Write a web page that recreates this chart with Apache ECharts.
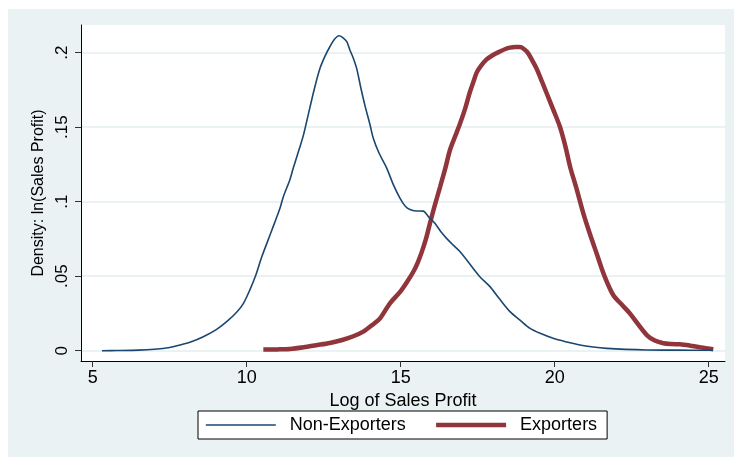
<!DOCTYPE html>
<html>
<head>
<meta charset="utf-8">
<script src="https://cdn.jsdelivr.net/npm/echarts@6/dist/echarts.min.js"></script>
<style>
  html, body { margin: 0; padding: 0; background: #ffffff; }
  #chart { position: absolute; left: 8px; top: 9px; width: 726px; height: 448px; }
</style>
</head>
<body>
<div id="chart"></div>
<script>
// Kernel density estimates of log sales profit
const nonExpX = [5.30, 5.8, 6.5, 7.0, 7.5, 7.84, 8.2, 8.59, 9.0, 9.35, 9.68, 9.9, 10.1, 10.3, 10.49, 10.8, 11.08, 11.19, 11.4, 11.51, 11.7, 11.84, 12.05, 12.2, 12.38, 12.55, 12.7, 12.85, 13.0, 13.1, 13.25, 13.35, 13.45, 13.57, 13.7, 13.84, 14.0, 14.11, 14.3, 14.55, 14.75, 14.98, 15.15, 15.3, 15.5, 15.73, 15.9, 16.11, 16.3, 16.49, 16.7, 16.93, 17.25, 17.57, 17.9, 18.2, 18.55, 18.9, 19.2, 19.55, 19.95, 20.4, 20.82, 21.25, 21.69, 22.3, 22.99, 24.0, 25.14];
const nonExpY = [0.0000, 0.0001, 0.0004, 0.0010, 0.0022, 0.0038, 0.0060, 0.0094, 0.0140, 0.0195, 0.0260, 0.0320, 0.0407, 0.0510, 0.0630, 0.0800, 0.0956, 0.1034, 0.1146, 0.1224, 0.1350, 0.1445, 0.1630, 0.1760, 0.1895, 0.1980, 0.2040, 0.2090, 0.2114, 0.2105, 0.2074, 0.2018, 0.1970, 0.1895, 0.1770, 0.1645, 0.1520, 0.1426, 0.1325, 0.1224, 0.1120, 0.1023, 0.0970, 0.0948, 0.0938, 0.0937, 0.0900, 0.0855, 0.0800, 0.0754, 0.0710, 0.0664, 0.0580, 0.0497, 0.0430, 0.0350, 0.0262, 0.0200, 0.0150, 0.0115, 0.0083, 0.0058, 0.0038, 0.0025, 0.0016, 0.0009, 0.0005, 0.0004, 0.0003];

const expX = [10.54, 11.0, 11.4, 11.9, 12.3, 12.7, 13.1, 13.46, 13.8, 14.11, 14.33, 14.65, 14.98, 15.2, 15.41, 15.55, 15.68, 15.82, 15.95, 16.1, 16.28, 16.45, 16.6, 16.78, 16.93, 17.1, 17.25, 17.37, 17.47, 17.6, 17.79, 18.0, 18.22, 18.4, 18.55, 18.72, 18.87, 19.0, 19.14, 19.28, 19.42, 19.58, 19.74, 19.95, 20.17, 20.35, 20.5, 20.72, 20.93, 21.15, 21.36, 21.6, 21.9, 22.2, 22.44, 22.7, 22.99, 23.25, 23.53, 23.8, 24.07, 24.4, 24.72, 25.15];
const expY = [0.0008, 0.0009, 0.0012, 0.0025, 0.0038, 0.0052, 0.0072, 0.0097, 0.0130, 0.0178, 0.0217, 0.0318, 0.0395, 0.0460, 0.0530, 0.0590, 0.0660, 0.0750, 0.0855, 0.0970, 0.1100, 0.1225, 0.1347, 0.1445, 0.1526, 0.1630, 0.1738, 0.1810, 0.1868, 0.1910, 0.1955, 0.1985, 0.2008, 0.2025, 0.2034, 0.2038, 0.2038, 0.2025, 0.1996, 0.1945, 0.1890, 0.1810, 0.1728, 0.1620, 0.1503, 0.1370, 0.1235, 0.1080, 0.0922, 0.0780, 0.0654, 0.0510, 0.0374, 0.0305, 0.0251, 0.0180, 0.0105, 0.0068, 0.0050, 0.0045, 0.0043, 0.0034, 0.0023, 0.0010];

const seriesNames = ['Non-Exporters', 'Exporters'];
const xTicks = [5, 10, 15, 20, 25];
const yTicks = [0, 0.05, 0.1, 0.15, 0.2];
const yTickLabels = ['0', '.05', '.1', '.15', '.2'];
const xTitle = 'Log of Sales Profit';
const yTitle = 'Density: ln(Sales Profit)';

const pairs = (xs, ys) => xs.map((x, i) => [x, ys[i]]);
const FONT = '"Liberation Sans", Arial, sans-serif';
const BG = '#EAF2F3';
const BLUE = '#1A476F';
const RED = '#90353B';
const BLUE_W = 1.6;
const RED_W = 4.5;

const chart = echarts.init(document.getElementById('chart'), null, { renderer: 'canvas' });
chart.setOption({
  backgroundColor: BG,
  animation: false,
  textStyle: { fontFamily: FONT, color: '#000' },
  grid: {
    left: 73, right: 9, top: 16, bottom: 96,
    show: true, backgroundColor: '#ffffff', borderWidth: 0
  },
  xAxis: {
    type: 'value',
    min: 4.62, max: 25.53,
    name: xTitle,
    nameLocation: 'middle',
    nameGap: 15,
    nameTextStyle: { fontSize: 18, color: '#000', fontFamily: FONT },
    axisLine: { show: true, onZero: false, lineStyle: { color: '#000', width: 1 } },
    axisTick: { show: true, length: 6, customValues: xTicks, lineStyle: { color: '#333' } },
    axisLabel: { customValues: xTicks, fontSize: 18, color: '#000', margin: 8, fontFamily: FONT },
    splitLine: { show: false }
  },
  yAxis: {
    type: 'value',
    min: -0.0069, max: 0.2186,
    name: yTitle,
    nameLocation: 'middle',
    nameGap: 27,
    nameRotate: 90,
    nameTextStyle: { fontSize: 16, color: '#000', fontFamily: FONT },
    axisLine: { show: true, onZero: false, lineStyle: { color: '#000', width: 1 } },
    axisTick: { show: true, length: 6, customValues: yTicks, lineStyle: { color: '#333' } },
    axisLabel: {
      customValues: yTicks,
      rotate: 90,
      fontSize: 17,
      color: '#000',
      margin: 10,
      fontFamily: FONT,
      formatter: v => {
        const i = yTicks.findIndex(t => Math.abs(t - v) < 1e-9);
        return i >= 0 ? yTickLabels[i] : '';
      }
    },
    splitLine: { show: true, lineStyle: { color: BG, width: 2 } }
  },
  legend: {
    data: [
      { name: seriesNames[0], itemStyle: { opacity: 0 }, lineStyle: { color: BLUE, width: BLUE_W } },
      { name: seriesNames[1], itemStyle: { opacity: 0 }, lineStyle: { color: RED, width: RED_W } }
    ],
    left: 190,
    top: 402,
    orient: 'horizontal',
    backgroundColor: '#ffffff',
    borderColor: '#000',
    borderWidth: 1,
    borderRadius: 0,
    padding: [5, 10, 5, 7],
    itemGap: 28,
    itemWidth: 70,
    itemHeight: 14,
    textStyle: { fontSize: 18, color: '#000', fontFamily: FONT, padding: [0, 0, 0, 9] }
  },
  series: [
    {
      name: seriesNames[0],
      type: 'line',
      data: pairs(nonExpX, nonExpY),
      symbol: 'none',
      smooth: 0.3,
      lineStyle: { color: BLUE, width: BLUE_W },
      itemStyle: { color: BLUE },
      z: 3
    },
    {
      name: seriesNames[1],
      type: 'line',
      data: pairs(expX, expY),
      symbol: 'none',
      smooth: 0.3,
      lineStyle: { color: RED, width: RED_W },
      itemStyle: { color: RED },
      z: 2
    }
  ]
});
</script>
</body>
</html>
